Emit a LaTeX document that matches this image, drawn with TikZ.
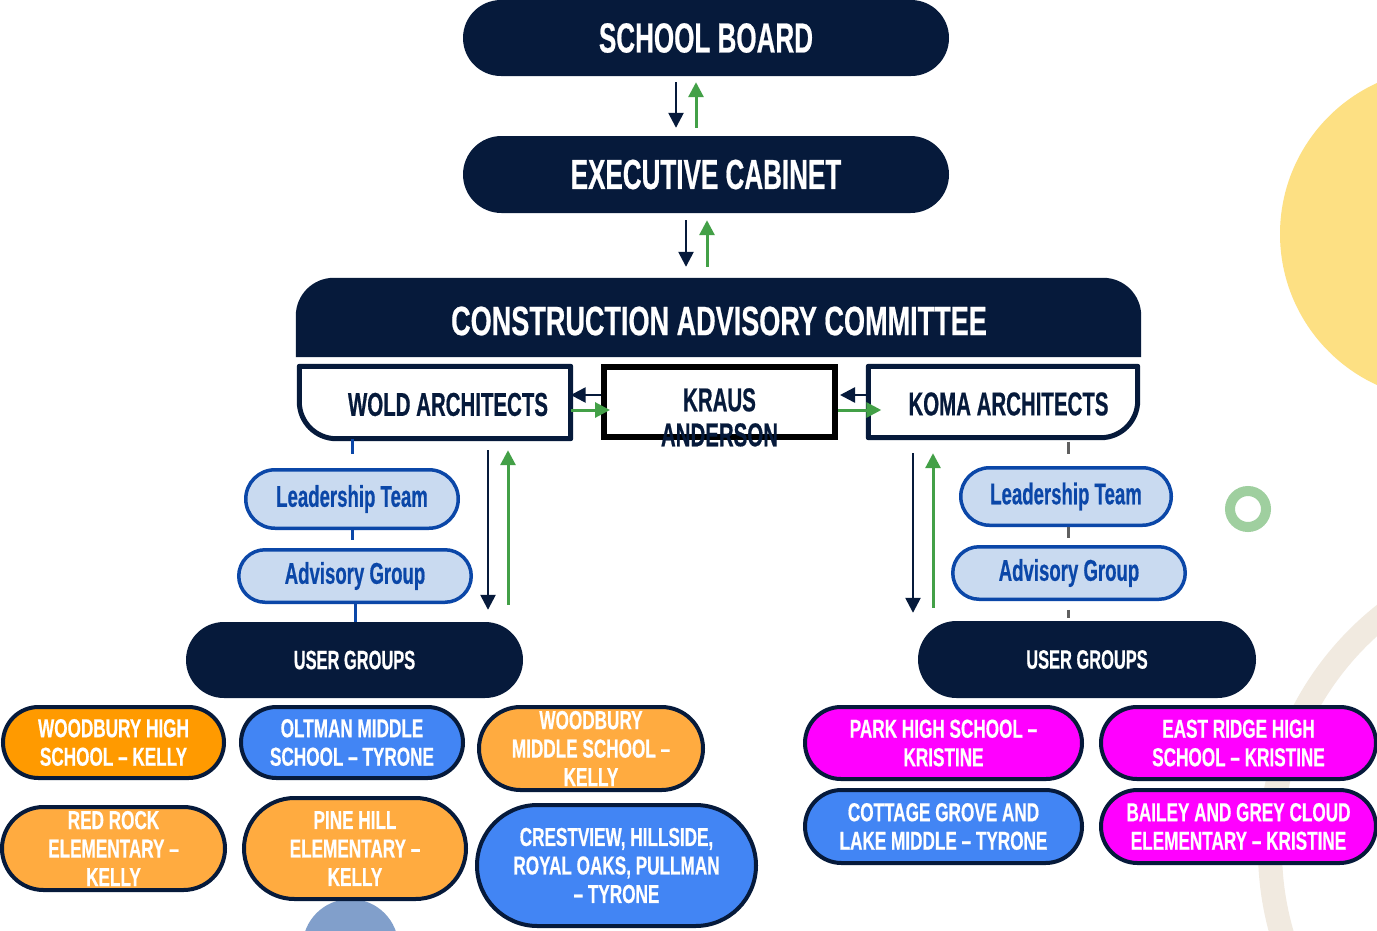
\documentclass[tikz,border=0pt]{standalone}
\usepackage{fontspec}
\newfontfamily\fj[FakeStretch=0.62,FakeBold=0.5]{Liberation Sans}
\newfontfamily\fjw[FakeStretch=0.66,FakeBold=0.5]{Liberation Sans}
\newcommand\fjs[2]{\fj\bfseries\fontsize{#1}{#2}\selectfont}
\newcommand\fjws[2]{\fjw\bfseries\fontsize{#1}{#2}\selectfont}
\usetikzlibrary{arrows.meta,calc}
\definecolor{navy}{HTML}{061A3B}
\definecolor{arrgreen}{HTML}{43A047}
\definecolor{lightblue}{HTML}{C9DAF0}
\definecolor{midblue}{HTML}{0B47A8}
\definecolor{congray}{HTML}{5F5F5F}
\definecolor{orangeA}{HTML}{FF9A00}
\definecolor{orangeB}{HTML}{FFAB40}
\definecolor{schoolblue}{HTML}{4285F4}
\definecolor{magentaA}{HTML}{FF00FF}
\definecolor{decoyellow}{HTML}{FDE083}
\definecolor{decogreen}{HTML}{9FCF9F}
\definecolor{decobeige}{HTML}{F1EAE0}
\definecolor{decoblue}{HTML}{819FCB}
\begin{document}
\begin{tikzpicture}[x=1pt,y=1pt,
  darkpill/.style={fill=navy, text=white, inner sep=0pt, align=center},
  softpill/.style={fill=lightblue, draw=midblue, line width=3.5pt, text=midblue, inner sep=0pt, align=center, font=\fjs{30}{32}},
  school/.style={draw=navy, line width=4pt, inner sep=0pt, align=center, text=white, font=\fjws{26}{28.5}},
  navyarr/.style={draw=navy, line width=2.5pt, -{Triangle[length=15pt,width=15pt]}},
  greenarr/.style={draw=arrgreen, line width=3pt, -{Triangle[length=15pt,width=15pt]}},
  bluecon/.style={draw=midblue, line width=3pt},
  graycon/.style={draw=congray, line width=3pt},
  archtext/.style={text=navy, inner sep=0pt, align=center, font=\fjs{33}{35}}
]
\clip (0,0) rectangle (1377,-930);
\fill[white] (0,0) rectangle (1377,-930);

% decorations
\fill[decoyellow] (1446,-234) circle[radius=166];
\draw[decogreen, line width=10pt] (1248,-509) circle[radius=18];
\draw[decobeige, line width=24pt] (1570,-850) circle[radius=300];
\fill[decoblue] (350.5,-947) circle[radius=48];

% top boxes
\node[darkpill, minimum width=486pt, minimum height=76pt, rounded corners=38pt, font=\fjs{42}{46}] (sb) at (706,-38) {SCHOOL BOARD};
\node[darkpill, minimum width=486pt, minimum height=77pt, rounded corners=38.5pt, font=\fjs{42}{46}] (ec) at (706,-174.5) {EXECUTIVE CABINET};

% construction advisory committee
\node[minimum width=845pt, minimum height=79pt, inner sep=0pt] (cac) at (718.5,-317.5) {};
\fill[navy] (cac.south west) -- ($(cac.north west)+(0,-38)$) arc[start angle=180,end angle=90,radius=38]
  -- ($(cac.north east)+(-38,0)$) arc[start angle=90,end angle=0,radius=38] -- (cac.south east) -- cycle;
\node[text=white, inner sep=0pt, font=\fjws{41}{44}] (cact) at ($(cac.center)+(0.5,-3.5)$) {CONSTRUCTION ADVISORY COMMITTEE};

% architects row
\node[minimum width=271pt, minimum height=72pt, inner sep=0pt] (wold) at (435,-402.5) {};
\draw[navy, line width=5pt, line join=round] (wold.north west) -- (wold.north east) -- (wold.south east)
  -- ($(wold.south west)+(37,0)$) arc[start angle=270,end angle=180,radius=37] -- cycle;
\node[archtext] (woldt) at ($(wold.center)+(13,-2)$) {WOLD ARCHITECTS};

\node[draw=black, line width=6pt, minimum width=231pt, minimum height=70pt, inner sep=0pt] (kraus) at (719.5,-402) {};
\node[archtext, anchor=north] (kraust) at ($(kraus.north)+(0,-24)$) {KRAUS\\ANDERSON};

\node[minimum width=269pt, minimum height=71pt, inner sep=0pt] (koma) at (1003,-402) {};
\draw[navy, line width=5pt, line join=round] (koma.south west) -- (koma.north west) -- (koma.north east)
  -- ($(koma.south east)+(0,37)$) arc[start angle=0,end angle=-90,radius=37] -- cycle;
\node[archtext] (komat) at ($(koma.center)+(5.5,-2)$) {KOMA ARCHITECTS};

% horizontal arrows
\draw[navyarr] ($(kraus.west)+(0,7)$) -- ($(kraus.west -| wold.east)+(0,7)$);
\draw[greenarr] ($(kraus.west -| wold.east)+(0,-8)$) -- ($(kraus.west)+(9,-8)$);
\draw[navyarr] ($(koma.west)+(0,7)$) -- ($(koma.west -| kraus.east)+(2,7)$);
\draw[greenarr] ($(koma.west -| kraus.east)+(0,-8)$) -- ($(koma.west)+(13,-8)$);

% vertical arrows top
\draw[navyarr] ($(sb.south)+(-30,-6)$) -- ($(ec.north)+(-30,8)$);
\draw[greenarr] ($(ec.north)+(-10,8)$) -- ($(sb.south)+(-10,-6)$);
\draw[navyarr] ($(ec.south)+(-20,-7)$) -- ($(ec.south |- cac.north)+(-20,11)$);
\draw[greenarr] ($(ec.south |- cac.north)+(1,11)$) -- ($(ec.south)+(1,-7)$);

% left column
\node[softpill, minimum width=212.5pt, minimum height=58.5pt, rounded corners=29.25pt] (lt) at (352,-499) {Leadership Team};
\node[softpill, minimum width=232.5pt, minimum height=52.5pt, rounded corners=26.25pt] (ag) at (355,-576) {Advisory Group};
\node[darkpill, minimum width=337pt, minimum height=76pt, rounded corners=38pt, font=\fjs{26.5}{28}] (ug) at (354.5,-660) {USER GROUPS};
\draw[bluecon] (lt.north |- wold.south) -- ($(lt.north)+(0,13.75)$);
\draw[bluecon] (lt.south) -- ($(lt.south |- ag.north)+(0,8)$);
\draw[bluecon] (ag.south) -- (ag.south |- ug.north);
\draw[navyarr] ($(wold.south)+(53,-11.5)$) -- ($(wold.south |- ug.north)+(53,12)$);
\draw[greenarr] ($(wold.south |- ug.north)+(73,17)$) -- ($(wold.south)+(73,-11.5)$);

% right column
\node[softpill, minimum width=210.5pt, minimum height=57.5pt, rounded corners=28.75pt] (ltr) at (1066,-496.5) {Leadership Team};
\node[softpill, minimum width=232.5pt, minimum height=52.5pt, rounded corners=26.25pt] (agr) at (1069,-573) {Advisory Group};
\node[darkpill, minimum width=338pt, minimum height=77pt, rounded corners=38.5pt, font=\fjs{26.5}{28}] (ugr) at (1087,-659.5) {USER GROUPS};
\draw[graycon] ($(ltr.north |- koma.south)+(2,-4)$) -- ($(ltr.north)+(2,11.75)$);
\draw[graycon] ($(ltr.south)+(2,0)$) -- ($(ltr.south |- agr.north)+(2,6.75)$);
\draw[graycon] ($(agr.south)+(-1,-8.75)$) -- ($(agr.south |- ugr.north)+(-1,3)$);
\draw[navyarr] ($(koma.south)+(-90,-15.5)$) -- ($(koma.south |- ugr.north)+(-90,8)$);
\draw[greenarr] ($(koma.south |- ugr.north)+(-70,13)$) -- ($(koma.south)+(-70,-15.5)$);

% school boxes left
\node[school, fill=orangeA, minimum width=221pt, minimum height=71pt, rounded corners=35.5pt] (wh) at (113.5,-742.5) {WOODBURY HIGH\\SCHOOL – KELLY};
\node[school, fill=schoolblue, minimum width=222pt, minimum height=71pt, rounded corners=35.5pt] (om) at (352,-742.5) {OLTMAN MIDDLE\\SCHOOL – TYRONE};
\node[school, fill=orangeB, minimum width=224pt, minimum height=83pt, rounded corners=41.5pt] (wm) at (591,-748.5) {WOODBURY\\MIDDLE SCHOOL –\\KELLY};
\node[school, fill=orangeB, minimum width=223pt, minimum height=83pt, rounded corners=41.5pt] (rr) at (113.5,-848.5) {RED ROCK\\ELEMENTARY –\\KELLY};
\node[school, fill=orangeB, minimum width=222pt, minimum height=101pt, rounded corners=50.5pt] (ph) at (355,-848.5) {PINE HILL\\ELEMENTARY –\\KELLY};
\node[school, fill=schoolblue, minimum width=279pt, minimum height=121pt, rounded corners=60.5pt] (cr) at (616.5,-865.5) {CRESTVIEW, HILLSIDE,\\ROYAL OAKS, PULLMAN\\– TYRONE};

% school boxes right
\node[school, fill=magentaA, minimum width=277pt, minimum height=72pt, rounded corners=36pt] (pk) at (943.5,-743) {PARK HIGH SCHOOL –\\KRISTINE};
\node[school, fill=magentaA, minimum width=275pt, minimum height=72pt, rounded corners=36pt] (er) at (1238.5,-743) {EAST RIDGE HIGH\\SCHOOL – KRISTINE};
\node[school, fill=schoolblue, minimum width=277pt, minimum height=73pt, rounded corners=36.5pt] (cg) at (943.5,-826.5) {COTTAGE GROVE AND\\LAKE MIDDLE – TYRONE};
\node[school, fill=magentaA, minimum width=275pt, minimum height=73pt, rounded corners=36.5pt] (bg) at (1238.5,-826.5) {BAILEY AND GREY CLOUD\\ELEMENTARY – KRISTINE};
\end{tikzpicture}
\end{document}
